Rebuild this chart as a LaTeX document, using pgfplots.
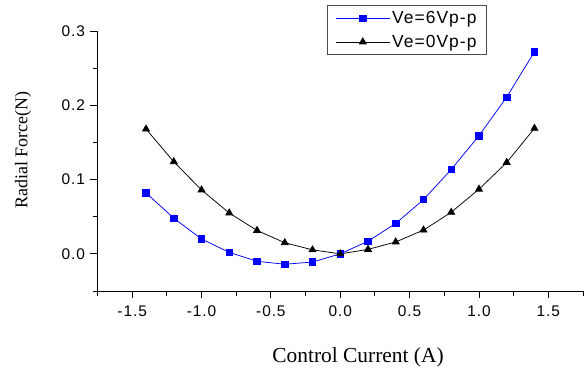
\documentclass[border=0pt]{standalone}
\usepackage{fontspec}
\setmainfont{Liberation Serif}
\setsansfont{Liberation Sans}
\newfontfamily\lsans[LetterSpace=6]{Liberation Sans}
\usepackage{pgfplots}
\pgfplotsset{compat=1.18}
\definecolor{oblue}{RGB}{0,0,255}
\begin{document}
\begin{tikzpicture}
\begin{axis}[
  scale only axis,
  width=485.5bp, height=260bp,
  xmin=-1.75, xmax=1.75, ymin=-0.05, ymax=0.3,
  axis x line*=bottom, axis y line*=left,
  axis line style={line width=0.9bp, -},
  xtick={-1.5,-1,-0.5,0,0.5,1,1.5},
  minor xtick={-1.75,-1.25,-0.75,-0.25,0.25,0.75,1.25,1.75},
  ytick={0,0.1,0.2,0.3},
  minor ytick={-0.05,0.05,0.15,0.25},
  tick align=outside,
  major tick length=7bp, minor tick length=4.5bp,
  tick style={line width=0.9bp, black},
  /pgf/number format/assume math mode=true,
  /pgf/number format/fixed, /pgf/number format/fixed zerofill,
  /pgf/number format/precision=1,
  ticklabel style={font=\lsans\fontsize{15.5}{18}\selectfont},
  xticklabel style={yshift=-4bp},
  yticklabel style={xshift=-2bp},
  xlabel={Control Current (A)},
  ylabel={Radial Force(N)},
  xlabel style={font=\rmfamily\fontsize{21.5}{24}\selectfont, at={(axis description cs:0.5366,-0.254)}, anchor=center},
  ylabel style={font=\rmfamily\fontsize{18}{21}\selectfont, at={(axis description cs:-0.1535,0.542)}, anchor=center},
  legend style={at={(axis description cs:0.4727,1.1)}, anchor=north west,
    font=\lsans\fontsize{17.5}{20}\selectfont, draw=black!70, line width=0.8bp,
    inner xsep=8bp, inner ysep=4bp, row sep=6bp, cells={anchor=west}},
  legend image code/.code={\draw[mark repeat=2,mark phase=2,#1] plot coordinates {(0bp,0bp)(27bp,0bp)(54bp,0bp)};},
  clip=false,
]
\addplot[oblue, line width=0.75bp, mark=square*, mark size=3.2bp, mark options={solid, fill=oblue}] coordinates {
(-1.4,0.082) (-1.2,0.048) (-1.0,0.020) (-0.8,0.002) (-0.6,-0.010) (-0.4,-0.014) (-0.2,-0.011)
(0,0.0) (0.2,0.017) (0.4,0.041) (0.6,0.073) (0.8,0.1135) (1.0,0.159) (1.2,0.211) (1.4,0.272)};
\addlegendentry{Ve=6Vp-p}
\addplot[black, line width=0.75bp, mark=triangle*, mark size=4bp, mark options={solid, fill=black}] coordinates {
(-1.4,0.168) (-1.2,0.124) (-1.0,0.086) (-0.8,0.055) (-0.6,0.0315) (-0.4,0.015) (-0.2,0.0054)
(0,0.0) (0.2,0.006) (0.4,0.016) (0.6,0.032) (0.8,0.056) (1.0,0.087) (1.2,0.123) (1.4,0.169)};
\addlegendentry{Ve=0Vp-p}
\end{axis}
\pgfresetboundingbox
\path (current axis.south west) ++(-97.5bp,-83bp) coordinate (bl);
\path (current axis.north east) ++(5bp,31bp) coordinate (tr);
\path[use as bounding box] (bl) rectangle (tr);
\end{tikzpicture}
\end{document}
